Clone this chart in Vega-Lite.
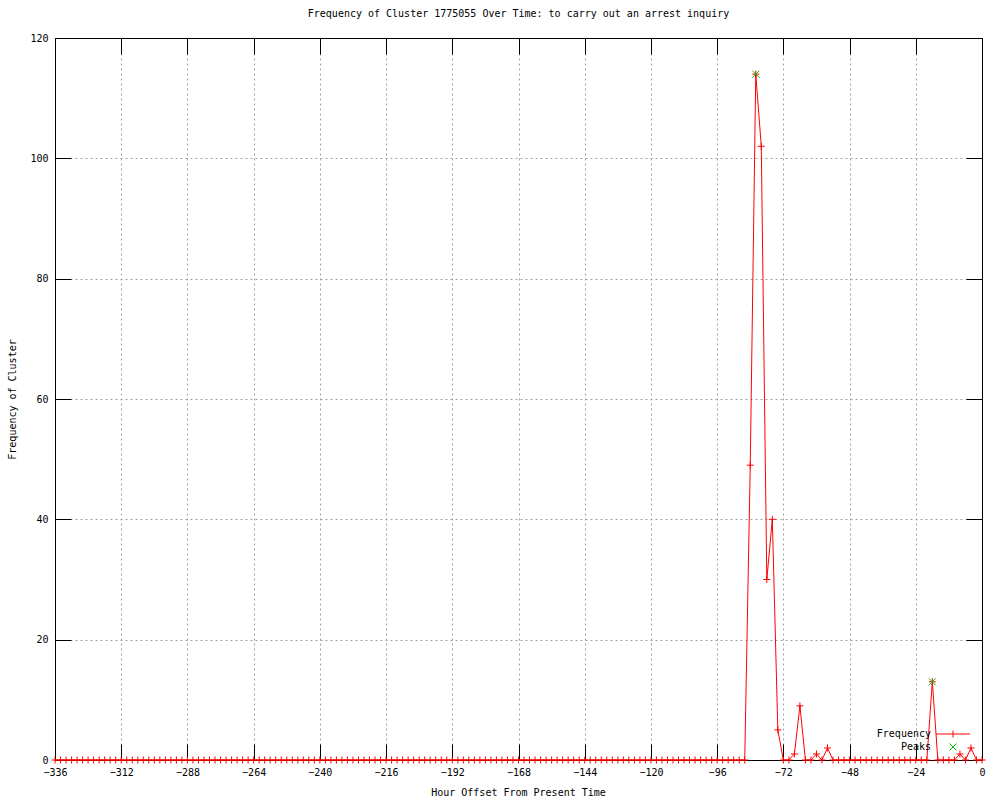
{
  "$schema": "https://vega.github.io/schema/vega-lite/v6.json",
  "width": 927,
  "height": 722,
  "autosize": {"type": "none"},
  "padding": {"left": 55, "top": 38, "right": 18, "bottom": 40},
  "background": "white",
  "title": {
    "text": "Frequency of Cluster 1775055 Over Time: to carry out an arrest inquiry",
    "font": "DejaVu Sans Mono",
    "fontSize": 10,
    "fontWeight": "normal",
    "color": "black",
    "anchor": "middle",
    "offset": 14
  },
  "config": {
    "view": {"stroke": "black", "strokeWidth": 1},
    "axis": {
      "labelFont": "DejaVu Sans Mono",
      "labelFontSize": 10,
      "labelColor": "black",
      "titleFont": "DejaVu Sans Mono",
      "titleFontSize": 10,
      "titleFontWeight": "normal",
      "titleColor": "black",
      "tickColor": "black",
      "tickSize": -16,
      "tickWidth": 1,
      "domainColor": "black",
      "gridColor": "#a0a0a0",
      "gridDash": [2, 3],
      "gridWidth": 1,
      "zindex": 1
    }
  },
  "datasets": {
    "freq": [
      {"hour": -336, "freq": 0}, {"hour": -334, "freq": 0}, {"hour": -332, "freq": 0}, {"hour": -330, "freq": 0},
      {"hour": -328, "freq": 0}, {"hour": -326, "freq": 0}, {"hour": -324, "freq": 0}, {"hour": -322, "freq": 0},
      {"hour": -320, "freq": 0}, {"hour": -318, "freq": 0}, {"hour": -316, "freq": 0}, {"hour": -314, "freq": 0},
      {"hour": -312, "freq": 0}, {"hour": -310, "freq": 0}, {"hour": -308, "freq": 0}, {"hour": -306, "freq": 0},
      {"hour": -304, "freq": 0}, {"hour": -302, "freq": 0}, {"hour": -300, "freq": 0}, {"hour": -298, "freq": 0},
      {"hour": -296, "freq": 0}, {"hour": -294, "freq": 0}, {"hour": -292, "freq": 0}, {"hour": -290, "freq": 0},
      {"hour": -288, "freq": 0}, {"hour": -286, "freq": 0}, {"hour": -284, "freq": 0}, {"hour": -282, "freq": 0},
      {"hour": -280, "freq": 0}, {"hour": -278, "freq": 0}, {"hour": -276, "freq": 0}, {"hour": -274, "freq": 0},
      {"hour": -272, "freq": 0}, {"hour": -270, "freq": 0}, {"hour": -268, "freq": 0}, {"hour": -266, "freq": 0},
      {"hour": -264, "freq": 0}, {"hour": -262, "freq": 0}, {"hour": -260, "freq": 0}, {"hour": -258, "freq": 0},
      {"hour": -256, "freq": 0}, {"hour": -254, "freq": 0}, {"hour": -252, "freq": 0}, {"hour": -250, "freq": 0},
      {"hour": -248, "freq": 0}, {"hour": -246, "freq": 0}, {"hour": -244, "freq": 0}, {"hour": -242, "freq": 0},
      {"hour": -240, "freq": 0}, {"hour": -238, "freq": 0}, {"hour": -236, "freq": 0}, {"hour": -234, "freq": 0},
      {"hour": -232, "freq": 0}, {"hour": -230, "freq": 0}, {"hour": -228, "freq": 0}, {"hour": -226, "freq": 0},
      {"hour": -224, "freq": 0}, {"hour": -222, "freq": 0}, {"hour": -220, "freq": 0}, {"hour": -218, "freq": 0},
      {"hour": -216, "freq": 0}, {"hour": -214, "freq": 0}, {"hour": -212, "freq": 0}, {"hour": -210, "freq": 0},
      {"hour": -208, "freq": 0}, {"hour": -206, "freq": 0}, {"hour": -204, "freq": 0}, {"hour": -202, "freq": 0},
      {"hour": -200, "freq": 0}, {"hour": -198, "freq": 0}, {"hour": -196, "freq": 0}, {"hour": -194, "freq": 0},
      {"hour": -192, "freq": 0}, {"hour": -190, "freq": 0}, {"hour": -188, "freq": 0}, {"hour": -186, "freq": 0},
      {"hour": -184, "freq": 0}, {"hour": -182, "freq": 0}, {"hour": -180, "freq": 0}, {"hour": -178, "freq": 0},
      {"hour": -176, "freq": 0}, {"hour": -174, "freq": 0}, {"hour": -172, "freq": 0}, {"hour": -170, "freq": 0},
      {"hour": -168, "freq": 0}, {"hour": -166, "freq": 0}, {"hour": -164, "freq": 0}, {"hour": -162, "freq": 0},
      {"hour": -160, "freq": 0}, {"hour": -158, "freq": 0}, {"hour": -156, "freq": 0}, {"hour": -154, "freq": 0},
      {"hour": -152, "freq": 0}, {"hour": -150, "freq": 0}, {"hour": -148, "freq": 0}, {"hour": -146, "freq": 0},
      {"hour": -144, "freq": 0}, {"hour": -142, "freq": 0}, {"hour": -140, "freq": 0}, {"hour": -138, "freq": 0},
      {"hour": -136, "freq": 0}, {"hour": -134, "freq": 0}, {"hour": -132, "freq": 0}, {"hour": -130, "freq": 0},
      {"hour": -128, "freq": 0}, {"hour": -126, "freq": 0}, {"hour": -124, "freq": 0}, {"hour": -122, "freq": 0},
      {"hour": -120, "freq": 0}, {"hour": -118, "freq": 0}, {"hour": -116, "freq": 0}, {"hour": -114, "freq": 0},
      {"hour": -112, "freq": 0}, {"hour": -110, "freq": 0}, {"hour": -108, "freq": 0}, {"hour": -106, "freq": 0},
      {"hour": -104, "freq": 0}, {"hour": -102, "freq": 0}, {"hour": -100, "freq": 0}, {"hour": -98, "freq": 0},
      {"hour": -96, "freq": 0}, {"hour": -94, "freq": 0}, {"hour": -92, "freq": 0}, {"hour": -90, "freq": 0},
      {"hour": -88, "freq": 0}, {"hour": -86, "freq": 0}, {"hour": -84, "freq": 49}, {"hour": -82, "freq": 114},
      {"hour": -80, "freq": 102}, {"hour": -78, "freq": 30}, {"hour": -76, "freq": 40}, {"hour": -74, "freq": 5},
      {"hour": -72, "freq": 0}, {"hour": -70, "freq": 0}, {"hour": -68, "freq": 1}, {"hour": -66, "freq": 9},
      {"hour": -64, "freq": 0}, {"hour": -62, "freq": 0}, {"hour": -60, "freq": 1}, {"hour": -58, "freq": 0},
      {"hour": -56, "freq": 2}, {"hour": -54, "freq": 0}, {"hour": -52, "freq": 0}, {"hour": -50, "freq": 0},
      {"hour": -48, "freq": 0}, {"hour": -46, "freq": 0}, {"hour": -44, "freq": 0}, {"hour": -42, "freq": 0},
      {"hour": -40, "freq": 0}, {"hour": -38, "freq": 0}, {"hour": -36, "freq": 0}, {"hour": -34, "freq": 0},
      {"hour": -32, "freq": 0}, {"hour": -30, "freq": 0}, {"hour": -28, "freq": 0}, {"hour": -26, "freq": 0},
      {"hour": -24, "freq": 0}, {"hour": -22, "freq": 0}, {"hour": -20, "freq": 0}, {"hour": -18, "freq": 13},
      {"hour": -16, "freq": 0}, {"hour": -14, "freq": 0}, {"hour": -12, "freq": 0}, {"hour": -10, "freq": 0},
      {"hour": -8, "freq": 1}, {"hour": -6, "freq": 0}, {"hour": -4, "freq": 2}, {"hour": -2, "freq": 0},
      {"hour": 0, "freq": 0}
    ],
    "peaks": [
      {"hour": -82, "freq": 114},
      {"hour": -18, "freq": 13}
    ]
  },
  "layer": [
    {
      "data": {"name": "freq"},
      "mark": {"type": "line", "color": "#ff0000", "strokeWidth": 1, "clip": false},
      "encoding": {
        "x": {
          "field": "hour", "type": "quantitative",
          "scale": {"domain": [-336, 0], "nice": false, "zero": false},
          "axis": {
            "orient": "bottom",
            "values": [-336, -312, -288, -264, -240, -216, -192, -168, -144, -120, -96, -72, -48, -24, 0],
            "grid": true,
            "labelPadding": 23,
            "title": "Hour Offset From Present Time",
            "titleX": 463,
            "titleY": 32,
            "titleBaseline": "middle",
            "labelFlush": false,
            "labelOverlap": false
          }
        },
        "y": {
          "field": "freq", "type": "quantitative",
          "scale": {"domain": [0, 120], "nice": false},
          "axis": {
            "orient": "left",
            "values": [0, 20, 40, 60, 80, 100, 120],
            "grid": true,
            "labelPadding": 23,
            "labelBaseline": "middle",
            "title": "Frequency of Cluster",
            "titleX": -43,
            "titleY": 361,
            "titleAngle": 270,
            "titleAlign": "center",
            "titleBaseline": "middle",
            "labelOverlap": false
          }
        }
      }
    },
    {
      "data": {"name": "freq"},
      "mark": {
        "type": "point",
        "shape": "M-1,0H1M0,-1V1",
        "size": 49,
        "filled": false,
        "color": "#ff0000",
        "strokeWidth": 1,
        "opacity": 1,
        "clip": false
      },
      "encoding": {
        "x": {
          "field": "hour", "type": "quantitative",
          "axis": {
            "orient": "top",
            "values": [-336, -312, -288, -264, -240, -216, -192, -168, -144, -120, -96, -72, -48, -24, 0],
            "labels": false,
            "grid": false,
            "title": null
          }
        },
        "y": {
          "field": "freq", "type": "quantitative",
          "axis": {
            "orient": "right",
            "values": [0, 20, 40, 60, 80, 100, 120],
            "labels": false,
            "grid": false,
            "title": null
          }
        }
      }
    },
    {
      "data": {"name": "peaks"},
      "mark": {
        "type": "point",
        "shape": "M-1,-1L1,1M-1,1L1,-1",
        "size": 49,
        "filled": false,
        "color": "#00c000",
        "strokeWidth": 1,
        "opacity": 1,
        "clip": false
      },
      "encoding": {
        "x": {"field": "hour", "type": "quantitative", "axis": null},
        "y": {"field": "freq", "type": "quantitative", "axis": null}
      }
    },
    {
      "data": {"name": "freq"},
      "transform": [{"filter": "false"}],
      "mark": {"type": "point", "filled": false, "strokeWidth": 1, "opacity": 1},
      "encoding": {
        "x": {"field": "hour", "type": "quantitative", "axis": null},
        "y": {"field": "freq", "type": "quantitative", "axis": null},
        "color": {
          "datum": "Frequency",
          "scale": {"domain": ["Frequency", "Peaks"], "range": ["#ff0000", "#00c000"]},
          "legend": {
            "title": null,
            "orient": "none",
            "legendX": 893,
            "legendY": 691,
            "padding": 0,
            "rowPadding": 1,
            "symbolSize": 49,
            "symbolStrokeWidth": 1,
            "symbolOpacity": 1,
            "labelFont": "DejaVu Sans Mono",
            "labelFontSize": 10,
            "labelColor": "black",
            "labelAlign": "right",
            "labelOffset": -27
          }
        },
        "shape": {
          "datum": "Frequency",
          "scale": {"domain": ["Frequency", "Peaks"], "range": ["M-4.86,0H4.86M0,-1V1", "M-1,-1L1,1M-1,1L1,-1"]}
        }
      }
    },
    {
      "data": {"name": "peaks"},
      "transform": [{"filter": "false"}],
      "mark": {"type": "point", "filled": false, "strokeWidth": 1, "opacity": 1},
      "encoding": {
        "x": {"field": "hour", "type": "quantitative", "axis": null},
        "y": {"field": "freq", "type": "quantitative", "axis": null},
        "color": {"datum": "Peaks"},
        "shape": {"datum": "Peaks"}
      }
    }
  ],
  "resolve": {"axis": {"x": "independent", "y": "independent"}}
}
